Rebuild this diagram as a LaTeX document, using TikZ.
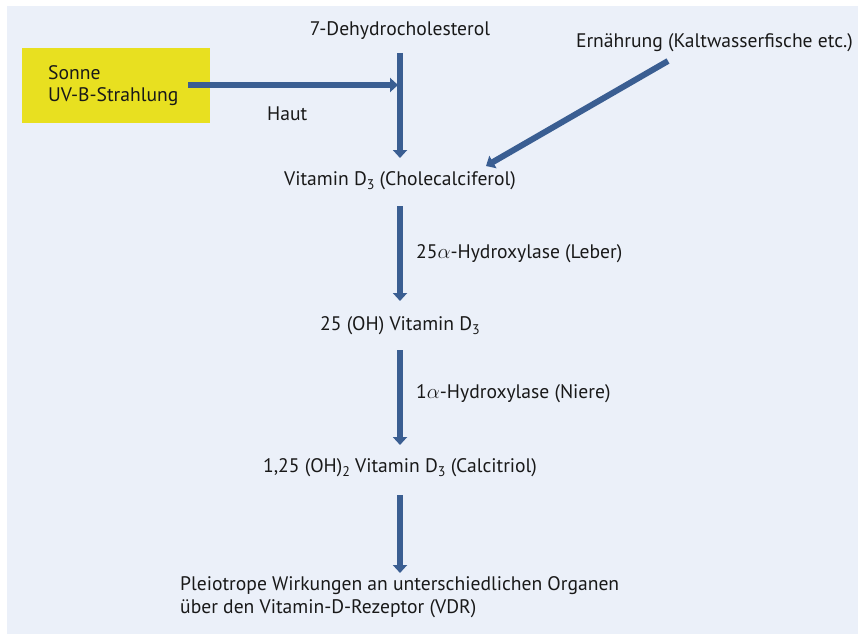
\documentclass[tikz,border=0pt]{standalone}
\usepackage{fontspec}
\setmainfont{PT Sans}
\usetikzlibrary{arrows.meta}
\definecolor{panel}{RGB}{235,240,249}
\definecolor{arr}{RGB}{58,94,146}
\definecolor{sun}{RGB}{232,224,32}
\newcommand{\subx}[1]{\raisebox{-0.4ex}{\fontsize{14}{14}\selectfont #1}}
\begin{document}
\begin{tikzpicture}[x=1pt,y=-1pt,
  lbl/.style={font=\fontsize{19.6}{22}\selectfont, inner sep=0pt, text=black!90},
  flow/.style={draw=arr, line width=6pt, -{Triangle[width=14pt,length=8pt]}}]
\useasboundingbox (0,0) rectangle (858,634);
\fill[white] (0,0) rectangle (858,634);
\fill[panel] (7,6) rectangle (858,634);
\node[fill=sun, minimum width=188pt, minimum height=75pt, anchor=north west, inner sep=0pt] (sun) at (22,48) {};
\node[lbl, anchor=west, align=left] (suntxt) at (48,86) {Sonne\\UV-B-Strahlung};
\node[lbl] (dhc) at (400,31) {7-Dehydrocholesterol};
\node[lbl, anchor=east] (ern) at (853,43) {Ernährung (Kaltwasserfische etc.)};
\node[lbl, anchor=west] (haut) at (267,114) {Haut};
\node[lbl] (d3) at (400,181) {Vitamin D\subx{3} (Cholecalciferol)};
\node[lbl, anchor=west] (e1) at (416,254) {25$\alpha$-Hydroxylase (Leber)};
\node[lbl] (oh) at (400,326) {25 (OH) Vitamin D\subx{3}};
\node[lbl, anchor=west] (e2) at (416,394) {1$\alpha$-Hydroxylase (Niere)};
\node[lbl] (cal) at (400,468) {1,25 (OH)\subx{2} Vitamin D\subx{3} (Calcitriol)};
\node[lbl, anchor=north west, align=left, font=\fontsize{19.6}{23}\selectfont] (vdr) at (180,576) {Pleiotrope Wirkungen an unterschiedlichen Organen\\über den Vitamin-D-Rezeptor (VDR)};
\coordinate (v1s) at (400,53);
\coordinate (v1e) at (400,158);
\coordinate (hs) at (188,85);
\coordinate (he) at (398,85);
\coordinate (ds) at (668,61);
\coordinate (de) at (486,166);
\draw[flow] (v1s) -- (v1e);
\draw[flow] (hs) -- (he);
\draw[flow] (ds) -- (de);
\draw[flow] (400,206) -- (400,301);
\draw[flow] (400,350) -- (400,445);
\draw[flow] (400,495) -- (400,573);
\end{tikzpicture}
\end{document}
